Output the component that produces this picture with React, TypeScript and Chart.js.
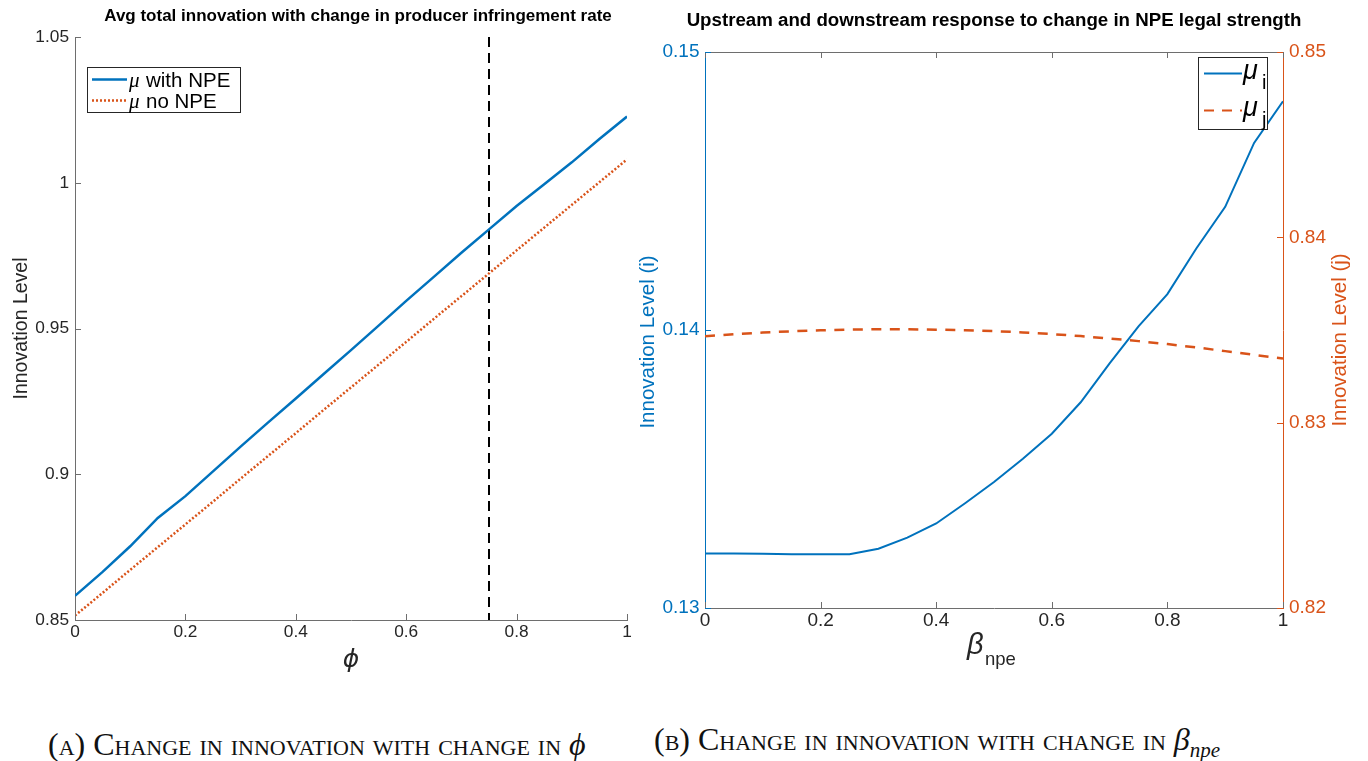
import React, { useEffect, useRef } from "react";
import { Chart, registerables } from "chart.js";

Chart.register(...registerables);

// ---------------- data ----------------
const phiValues = [0, 0.05, 0.1, 0.15, 0.2, 0.25, 0.3, 0.35, 0.4, 0.45, 0.5, 0.55, 0.6, 0.65, 0.7, 0.75, 0.8, 0.85, 0.9, 0.95, 1];
const muWithNPE = [0.8583, 0.8665, 0.8753, 0.885, 0.8925, 0.901, 0.9095, 0.9178, 0.926, 0.9343, 0.9426, 0.951, 0.9595, 0.9677, 0.976, 0.984, 0.992, 0.9995, 1.007, 1.015, 1.0227];
const muNoNPE = [0.8515, 0.8593, 0.8672, 0.875, 0.8828, 0.8906, 0.8985, 0.9063, 0.9141, 0.922, 0.9298, 0.9376, 0.9454, 0.9533, 0.9611, 0.9689, 0.9768, 0.9846, 0.9924, 1.0002, 1.008];
const phiThreshold = 0.75;
const leftXTicks = [0, 0.2, 0.4, 0.6, 0.8, 1];
const leftYTicks = [0.85, 0.9, 0.95, 1, 1.05];

const betaValues = [0, 0.05, 0.1, 0.15, 0.2, 0.25, 0.3, 0.35, 0.4, 0.45, 0.5, 0.55, 0.6, 0.65, 0.7, 0.75, 0.8, 0.85, 0.9, 0.95, 1];
const muI = [0.13196, 0.13196, 0.13195, 0.13193, 0.13193, 0.13193, 0.13213, 0.13253, 0.13304, 0.13377, 0.13453, 0.13537, 0.13627, 0.1374, 0.1388, 0.14013, 0.14129, 0.14293, 0.14443, 0.14673, 0.14823];
const muJ = [0.83466, 0.83477, 0.83486, 0.83493, 0.83498, 0.83502, 0.83504, 0.83504, 0.83502, 0.83499, 0.83494, 0.83487, 0.83478, 0.83467, 0.83454, 0.8344, 0.83424, 0.83406, 0.83386, 0.83366, 0.83346];
const rightXTicks = [0, 0.2, 0.4, 0.6, 0.8, 1];
const rightYLeftTicks = [0.13, 0.14, 0.15];
const rightYRightTicks = [0.82, 0.83, 0.84, 0.85];

const leftTitle = "Avg total innovation with change in producer infringement rate";
const rightTitle = "Upstream and downstream response to change in NPE legal strength";

// ---------------- styles ----------------
const BLUE = "#0072BD";
const ORANGE = "#D95319";
const TEXT = "#262626";
const AXIS = "#6e6e6e";
const SANS = '"Liberation Sans", Arial, Helvetica, sans-serif';
const SERIF = '"Liberation Serif", "Times New Roman", serif';
const TICK_LEN = 6;

const fmt = (v: number) => String(Number(Number(v).toFixed(4)));

function setTicks(list: number[]) {
  return (scale: any) => {
    scale.ticks = list.map((v) => ({ value: v }));
  };
}

function LeftChart() {
  const ref = useRef<HTMLCanvasElement>(null);
  useEffect(() => {
    const canvas = ref.current!;
    const W = 700, H = 700;
    const plotLeft = 75, plotRight = 627, plotTop = 37, plotBottom = 620;

    const decor = {
      id: "leftDecor",
      beforeDatasetsDraw(chart: any) {
        const { ctx, chartArea, scales } = chart;
        const vx = scales.x.getPixelForValue(phiThreshold);
        ctx.save();
        ctx.strokeStyle = "#000";
        ctx.lineWidth = 2;
        ctx.setLineDash([10, 6]);
        ctx.beginPath();
        ctx.moveTo(vx, chartArea.top);
        ctx.lineTo(vx, chartArea.bottom);
        ctx.stroke();
        ctx.restore();
      },
      afterDraw(chart: any) {
        const { ctx, chartArea, scales } = chart;
        const { left, right, top, bottom } = chartArea;
        ctx.save();
        // inward ticks
        ctx.strokeStyle = AXIS;
        ctx.lineWidth = 1;
        ctx.beginPath();
        leftXTicks.forEach((v) => {
          const px = Math.round(scales.x.getPixelForValue(v)) + 0.5;
          ctx.moveTo(px, bottom);
          ctx.lineTo(px, bottom - TICK_LEN);
        });
        leftYTicks.forEach((v) => {
          const py = Math.round(scales.y.getPixelForValue(v)) + 0.5;
          ctx.moveTo(left, py);
          ctx.lineTo(left + TICK_LEN, py);
        });
        ctx.stroke();

        // title
        ctx.fillStyle = "#000";
        ctx.font = `bold 17px ${SANS}`;
        ctx.textAlign = "center";
        ctx.textBaseline = "middle";
        ctx.fillText(leftTitle, 358, 16);

        // y title
        ctx.save();
        ctx.translate(22, (top + bottom) / 2);
        ctx.rotate(-Math.PI / 2);
        ctx.fillStyle = TEXT;
        ctx.font = `19.5px ${SANS}`;
        ctx.fillText("Innovation Level", 0, 0);
        ctx.restore();

        // x title (phi)
        ctx.fillStyle = TEXT;
        ctx.font = `italic 25px "DejaVu Sans", ${SANS}`;
        ctx.textAlign = "center";
        ctx.textBaseline = "middle";
        ctx.fillText("\u03D5", (left + right) / 2, 660);

        // legend
        const bx = 87, by = 67, bw = 153, bh = 45;
        ctx.fillStyle = "#fff";
        ctx.fillRect(bx, by, bw, bh);
        ctx.strokeStyle = TEXT;
        ctx.lineWidth = 1;
        ctx.strokeRect(bx + 0.5, by + 0.5, bw, bh);
        const rows = [
          { y: 79.5, color: BLUE, dash: [] as number[], label: "with NPE" },
          { y: 100.5, color: ORANGE, dash: [2, 2], label: "no NPE" },
        ];
        rows.forEach((r) => {
          ctx.strokeStyle = r.color;
          ctx.lineWidth = 2.5;
          ctx.setLineDash(r.dash);
          ctx.beginPath();
          ctx.moveTo(92, r.y);
          ctx.lineTo(127, r.y);
          ctx.stroke();
          ctx.setLineDash([]);
          ctx.fillStyle = "#000";
          ctx.textAlign = "left";
          ctx.textBaseline = "alphabetic";
          ctx.font = `italic 21px ${SERIF}`;
          ctx.fillText("\u03BC", 129, r.y + 7);
          ctx.font = `20.5px ${SANS}`;
          ctx.fillText(r.label, 146, r.y + 7);
        });
        ctx.restore();
      },
    };

    const chart = new Chart(canvas, {
      type: "line",
      data: {
        datasets: [
          {
            label: "μ with NPE",
            data: phiValues.map((x, i) => ({ x, y: muWithNPE[i] })),
            borderColor: BLUE,
            borderWidth: 2.5,
            pointRadius: 0,
            tension: 0,
          },
          {
            label: "μ no NPE",
            data: phiValues.map((x, i) => ({ x, y: muNoNPE[i] })),
            borderColor: ORANGE,
            borderWidth: 2.5,
            borderDash: [2, 2],
            pointRadius: 0,
            tension: 0,
          },
        ],
      },
      options: {
        responsive: false,
        animation: false,
        layout: { padding: { left: 0, top: plotTop, right: W - plotRight, bottom: 0 } },
        plugins: { legend: { display: false }, tooltip: { enabled: false }, title: { display: false } },
        scales: {
          x: {
            type: "linear",
            min: 0,
            max: 1,
            afterBuildTicks: setTicks(leftXTicks),
            afterFit: (s: any) => { s.height = H - plotBottom; },
            grid: { display: false, drawTicks: false },
            border: { display: true, color: AXIS, width: 1 },
            ticks: { autoSkip: false, maxRotation: 0, padding: 2, color: TEXT, font: { family: SANS, size: 17.3 }, callback: (v: any) => fmt(v) },
          },
          y: {
            type: "linear",
            min: 0.85,
            max: 1.05,
            afterBuildTicks: setTicks(leftYTicks),
            afterFit: (s: any) => { s.width = plotLeft; },
            grid: { display: false, drawTicks: false },
            border: { display: true, color: AXIS, width: 1 },
            ticks: { autoSkip: false, padding: 6, color: TEXT, font: { family: SANS, size: 17.3 }, callback: (v: any) => fmt(v) },
          },
        },
      },
      plugins: [decor],
    } as any);
    return () => chart.destroy();
  }, []);
  return <canvas ref={ref} width={700} height={700} style={{ position: "absolute", left: 0, top: 0 }} />;
}

function RightChart() {
  const ref = useRef<HTMLCanvasElement>(null);
  useEffect(() => {
    const canvas = ref.current!;
    const OX = 620;
    const W = 748, H = 700;
    const plotLeft = 705 - OX, plotRight = 1283 - OX, plotTop = 52, plotBottom = 608;

    const decor = {
      id: "rightDecor",
      afterDraw(chart: any) {
        const { ctx, chartArea, scales } = chart;
        const { left, right, top, bottom } = chartArea;
        ctx.save();
        // top border
        ctx.strokeStyle = AXIS;
        ctx.lineWidth = 1;
        ctx.beginPath();
        ctx.moveTo(left, top + 0.5);
        ctx.lineTo(right, top + 0.5);
        // x ticks (bottom & top)
        rightXTicks.forEach((v) => {
          const px = Math.round(scales.x.getPixelForValue(v)) + 0.5;
          ctx.moveTo(px, bottom);
          ctx.lineTo(px, bottom - TICK_LEN);
          ctx.moveTo(px, top);
          ctx.lineTo(px, top + TICK_LEN);
        });
        ctx.stroke();
        ctx.strokeStyle = BLUE;
        ctx.beginPath();
        rightYLeftTicks.forEach((v) => {
          const py = Math.round(scales.y.getPixelForValue(v)) + 0.5;
          ctx.moveTo(left, py);
          ctx.lineTo(left + TICK_LEN, py);
        });
        ctx.stroke();
        ctx.strokeStyle = ORANGE;
        ctx.beginPath();
        rightYRightTicks.forEach((v) => {
          const py = Math.round(scales.y1.getPixelForValue(v)) + 0.5;
          ctx.moveTo(right, py);
          ctx.lineTo(right - TICK_LEN, py);
        });
        ctx.stroke();

        // title
        ctx.fillStyle = "#000";
        ctx.font = `bold 18.7px ${SANS}`;
        ctx.textAlign = "center";
        ctx.textBaseline = "middle";
        ctx.fillText(rightTitle, (left + right) / 2, 21);

        // y titles
        ctx.save();
        ctx.translate(648 - OX, 342);
        ctx.rotate(-Math.PI / 2);
        ctx.fillStyle = BLUE;
        ctx.font = `20.5px ${SANS}`;
        ctx.fillText("Innovation Level (i)", 0, 0);
        ctx.restore();
        ctx.save();
        ctx.translate(1340 - OX, 340);
        ctx.rotate(-Math.PI / 2);
        ctx.fillStyle = ORANGE;
        ctx.font = `20.5px ${SANS}`;
        ctx.fillText("Innovation Level (j)", 0, 0);
        ctx.restore();

        // x title beta_npe
        ctx.fillStyle = TEXT;
        ctx.textAlign = "left";
        ctx.textBaseline = "alphabetic";
        ctx.font = `italic 29px ${SANS}`;
        ctx.fillText("\u03B2", 967 - OX, 654);
        ctx.font = `18.5px ${SANS}`;
        ctx.fillText("npe", 985 - OX, 665);

        // legend
        const bx = 1198 - OX, by = 57, bw = 69, bh = 72;
        ctx.fillStyle = "#fff";
        ctx.fillRect(bx, by, bw, bh);
        ctx.strokeStyle = TEXT;
        ctx.lineWidth = 1;
        ctx.strokeRect(bx + 0.5, by + 0.5, bw, bh);
        const rows = [
          { y: 73.5, color: BLUE, dash: [] as number[], sub: "i" },
          { y: 110.5, color: ORANGE, dash: [10, 8], sub: "j" },
        ];
        rows.forEach((r) => {
          ctx.strokeStyle = r.color;
          ctx.lineWidth = 2;
          ctx.setLineDash(r.dash);
          ctx.beginPath();
          ctx.moveTo(1204 - OX, r.y);
          ctx.lineTo(1242 - OX, r.y);
          ctx.stroke();
          ctx.setLineDash([]);
          ctx.fillStyle = "#000";
          ctx.font = `italic 27px ${SANS}`;
          ctx.fillText("\u03BC", 1243 - OX, r.y + 5);
          ctx.font = `20px ${SANS}`;
          ctx.fillText(r.sub, 1262 - OX, r.y + 15);
        });
        ctx.restore();
      },
    };

    const chart = new Chart(canvas, {
      type: "line",
      data: {
        datasets: [
          {
            label: "μi",
            data: betaValues.map((x, i) => ({ x, y: muI[i] })),
            borderColor: BLUE,
            borderWidth: 2,
            pointRadius: 0,
            tension: 0,
            yAxisID: "y",
          },
          {
            label: "μj",
            data: betaValues.map((x, i) => ({ x, y: muJ[i] })),
            borderColor: ORANGE,
            borderWidth: 2.5,
            borderDash: [10, 8.5],
            pointRadius: 0,
            tension: 0,
            yAxisID: "y1",
          },
        ],
      },
      options: {
        responsive: false,
        animation: false,
        layout: { padding: { left: 0, top: plotTop, right: 0, bottom: 0 } },
        plugins: { legend: { display: false }, tooltip: { enabled: false }, title: { display: false } },
        scales: {
          x: {
            type: "linear",
            min: 0,
            max: 1,
            afterBuildTicks: setTicks(rightXTicks),
            afterFit: (s: any) => { s.height = H - plotBottom; },
            grid: { display: false, drawTicks: false },
            border: { display: true, color: AXIS, width: 1 },
            ticks: { autoSkip: false, maxRotation: 0, padding: 1, color: TEXT, font: { family: SANS, size: 19 }, callback: (v: any) => fmt(v) },
          },
          y: {
            type: "linear",
            position: "left",
            min: 0.13,
            max: 0.15,
            afterBuildTicks: setTicks(rightYLeftTicks),
            afterFit: (s: any) => { s.width = plotLeft; },
            grid: { display: false, drawTicks: false },
            border: { display: true, color: BLUE, width: 1 },
            ticks: { autoSkip: false, padding: 5.5, color: BLUE, font: { family: SANS, size: 19 }, callback: (v: any) => fmt(v) },
          },
          y1: {
            type: "linear",
            position: "right",
            min: 0.82,
            max: 0.85,
            afterBuildTicks: setTicks(rightYRightTicks),
            afterFit: (s: any) => { s.width = W - plotRight; },
            grid: { display: false, drawTicks: false },
            border: { display: true, color: ORANGE, width: 1 },
            ticks: { autoSkip: false, padding: 6, color: ORANGE, font: { family: SANS, size: 19 }, callback: (v: any) => fmt(v) },
          },
        },
      },
      plugins: [decor],
    } as any);
    return () => chart.destroy();
  }, []);
  return <canvas ref={ref} width={748} height={700} style={{ position: "absolute", left: 620, top: 0 }} />;
}

const captionStyle: React.CSSProperties = {
  position: "absolute",
  fontFamily: SERIF,
  fontVariant: "small-caps",
  fontSize: 32,
  color: "#111",
  whiteSpace: "nowrap",
  lineHeight: "36px",
};

export default function App() {
  return (
    <div style={{ position: "absolute", left: 0, top: 0, width: 1368, height: 761, background: "#fff", overflow: "hidden" }}>
      <LeftChart />
      <RightChart />
      <div style={{ ...captionStyle, left: 48, top: 726 }}>
        (a) Change in innovation with change in <span style={{ fontStyle: "italic", fontVariant: "normal" }}>{"\u03D5"}</span>
      </div>
      <div style={{ ...captionStyle, left: 654, top: 721 }}>
        (b) Change in innovation with change in{" "}
        <span style={{ fontStyle: "italic", fontVariant: "normal" }}>
          {"\u03B2"}
          <sub style={{ fontSize: 21, lineHeight: 0 }}>npe</sub>
        </span>
      </div>
    </div>
  );
}
